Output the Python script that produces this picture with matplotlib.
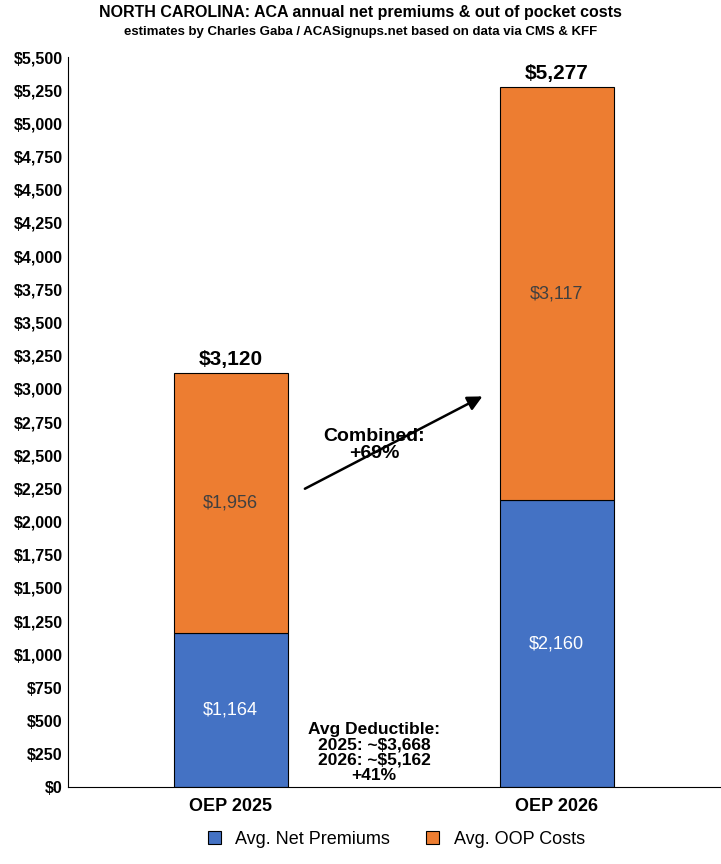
import matplotlib.pyplot as plt
from matplotlib.ticker import FuncFormatter

categories = ["OEP 2025", "OEP 2026"]
net_premiums = [1164, 2160]
oop_costs = [1956, 3117]
totals = [3120, 5277]

plt.rcParams['font.family'] = ['Liberation Sans', 'DejaVu Sans']
fig = plt.figure(figsize=(7.21, 8.64), dpi=100)
ax = fig.add_axes([0.094, 0.089, 0.904, 0.845])

x = range(len(categories))
blue = "#4472C4"
orange = "#ED7D31"
ax.bar(x, net_premiums, width=0.35, color=blue, edgecolor="black", linewidth=0.8, label="Avg. Net Premiums")
ax.bar(x, oop_costs, width=0.35, bottom=net_premiums, color=orange, edgecolor="black", linewidth=0.8, label="Avg. OOP Costs")

for i in x:
    ax.text(i, net_premiums[i] / 2, f"${net_premiums[i]:,}", ha="center", va="center", color="white", fontsize=13)
    ax.text(i, net_premiums[i] + oop_costs[i] / 2, f"${oop_costs[i]:,}", ha="center", va="center", color="#404040", fontsize=13)
    ax.text(i, totals[i] + 30, f"${totals[i]:,}", ha="center", va="bottom", fontsize=15, fontweight="bold")

ax.annotate("", xy=(0.78, 2953), xytext=(0.22, 2238),
            arrowprops=dict(arrowstyle="-|>", color="black", lw=1.8, mutation_scale=22))
ax.text(0.44, 2577, "Combined:\n+69%", ha="center", va="center", fontsize=14, fontweight="bold",
        linespacing=1.0)
ax.text(0.44, 260, "Avg Deductible:\n2025: ~$3,668\n2026: ~$5,162\n+41%", ha="center", va="center",
        fontsize=12.5, fontweight="bold", linespacing=1.05)

ax.set_xlim(-0.5, 1.5)
ax.set_ylim(0, 5500)
ax.set_yticks(range(0, 5501, 250))
ax.yaxis.set_major_formatter(FuncFormatter(lambda v, p: f"${int(v):,}"))
ax.set_xticks(list(x))
ax.set_xticklabels(categories, fontsize=13, fontweight="bold")
ax.tick_params(axis="y", labelsize=11.5, length=0)
ax.tick_params(axis="x", length=0, pad=8)
for lab in ax.get_yticklabels():
    lab.set_fontweight("bold")
for s in ["top", "right"]:
    ax.spines[s].set_visible(False)

fig.text(0.5, 0.985, "NORTH CAROLINA: ACA annual net premiums & out of pocket costs", ha="center", va="center",
         fontsize=11.5, fontweight="bold")
fig.text(0.5, 0.963, "estimates by Charles Gaba / ACASignups.net based on data via CMS & KFF", ha="center",
         va="center", fontsize=9.5, fontweight="bold")
fig.legend(loc="lower center", bbox_to_anchor=(0.55, 0.0), ncol=2, frameon=False, fontsize=13,
           handlelength=0.7, handleheight=0.7, columnspacing=2)

fig.savefig("out.png", dpi=100)
